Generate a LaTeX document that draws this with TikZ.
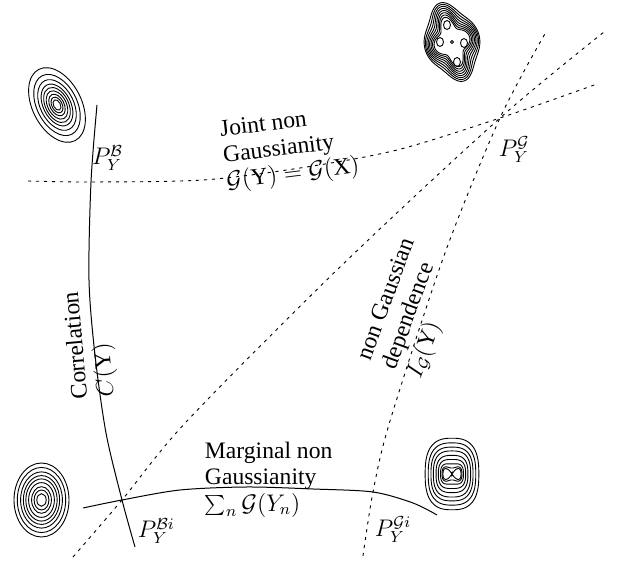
\documentclass[tikz,border=0pt]{standalone}
\usepackage{fontspec}
\setmainfont{Liberation Serif}

\begin{document}
\begin{tikzpicture}[x=0.5pt, y=-0.5pt,
        font=\fontsize{11.8}{13.2}\selectfont,
        %% line styles
        solid curve/.style={line width=0.5pt},
        guide/.style={line width=0.45pt, dash pattern=on 1.6pt off 2.4pt},
        contour/.style={line width=0.45pt},
        tag/.style={inner sep=0pt, outer sep=0pt},
        label text/.style={tag, align=left, anchor=north west},
        % Cassini oval radius for a=1
        declare function={cas(\angl,\bpar)=sqrt(max(0,cos(2*\angl)+sqrt(max(0,\bpar^4-sin(2*\angl)^2))));}
    ]
    \useasboundingbox (0,0) rectangle (618,561);
    %% points where the paths meet
    \coordinate (G)  at (500,118);
    \coordinate (B)  at (91,182);
    \coordinate (Bi) at (122,500);
    \coordinate (Gi) at (373,492);
    %
    % correlation and marginal paths
    \draw[solid curve] plot[smooth] coordinates
        {(97,105) (B) (89,280) (95,355) (106,433) (Bi) (135,547)};
    \draw[solid curve] plot[smooth] coordinates
        {(83,508) (Bi) (180,490) (247,487) (313,489) (Gi) (413,503) (437,515)};
    % dashed paths through P_Y^G
    \draw[guide] plot[smooth] coordinates
        {(28,181) (B) (203,180) (300,168) (397,150) (G) (597,84)};
    \draw[guide] plot[smooth] coordinates
        {(73,557) (Bi) (187,421) (340,267) (G) (604,32)};
    \draw[guide] plot[smooth] coordinates
        {(363,556) (Gi) (390,421) (445,253) (G) (546,32)};
    %
    % points
    \node[tag, anchor=base west] (PB)  at (92,165)  {$P_Y^{\mathcal{B}}$};
    \node[tag, anchor=base west] (PG)  at (499,157) {$P_Y^{\mathcal{G}}$};
    \node[tag, anchor=base west] (PBi) at (138,538) {$P_Y^{\mathcal{B}i}$};
    \node[tag, anchor=base west] (PGi) at (375,537) {$P_Y^{\mathcal{G}i}$};
    % path labels
    \node[label text, rotate=7] (joint) at (219,121)
        {Joint non\\Gaussianity\\$\mathcal{G}(\mathrm{Y})=\mathcal{G}(\mathrm{X})$};
    \node[label text] (marginal) at (205,442)
        {Marginal non\\Gaussianity\\$\sum_n \mathcal{G}(Y_n)$};
    \node[label text, rotate=70] (dependence) at (356,356)
        {non Gaussian\\dependence\\$I_{\mathcal{G}}(\mathrm{Y})$};
    \node[label text, rotate=95] (correlation) at (71,400)
        {Correlation\\$C(\mathrm{Y})$};
    %
    %% density contours
    % correlated gaussian
    \begin{scope}[shift={(57,105)}, rotate=27]
        \foreach \s in {1,.82,.68,.56,.47,.38,.29,.21,.14}
            \draw[contour] (0,0) ellipse [x radius=24.5*\s, y radius=40*\s];
    \end{scope}
    % independent gaussian
    \begin{scope}[shift={(41.5,500)}]
        \foreach \s in {1,.88,.76,.66,.57,.47,.36,.27,.17}
            \draw[contour] (0,0) ellipse [x radius=27.5*\s, y radius=37*\s];
    \end{scope}
    % bimodal marginals
    \begin{scope}[shift={(452,474)}]
        \foreach \bb in {1.0,1.2,1.5,1.9,2.3,2.75,3.15,3.6,4.1}
            \draw[contour] plot[domain=1:361, samples=121, variable=\t]
                ({6.36*cas(\t,\bb)*cos(\t)/abs(cos(\t))^0.25},
                 {9*cas(\t,\bb)*sin(\t)/abs(sin(\t))^0.25}) -- cycle;
    \end{scope}
    % five peaks
    \begin{scope}[shift={(452,42)}]
        \foreach \px/\py/\rx/\ry in {-5/-17/3.5/4.5, -12/0/3.5/4.5, 12/1/3.5/4.5, 5/20/3.5/4.5, 0/0/1.5/1.5}
            \draw[contour] (\px,\py) ellipse [x radius=\rx, y radius=\ry];
        \begin{scope}[rotate=17]
            \foreach \k in {0,...,7}
                \draw[contour] plot[domain=0:360, samples=90, smooth, variable=\t]
                    ({(15+1.55*\k)*(1+(0.22-0.02*\k)*cos(4*\t))*cos(\t)},
                     {(21+2.4*\k)*(1+(0.22-0.02*\k)*cos(4*\t))*sin(\t)}) -- cycle;
        \end{scope}
    \end{scope}
\end{tikzpicture}
\end{document}
